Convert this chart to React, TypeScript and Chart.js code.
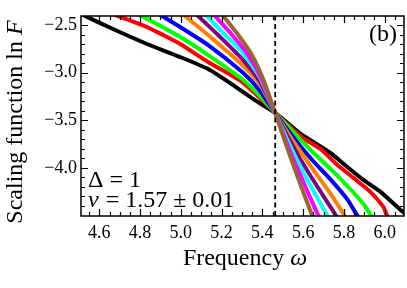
import React, { useEffect, useRef } from "react";
import { Chart, registerables } from "chart.js";

Chart.register(...registerables);

// Axis ranges and ticks
const xRange = [4.51, 6.095];
const yRange = [-4.505, -2.405];
const xTicks = [4.6, 4.8, 5.0, 5.2, 5.4, 5.6, 5.8, 6.0];
const xMinorTicks = [4.55, 4.65, 4.7, 4.75, 4.85, 4.9, 4.95, 5.05, 5.1, 5.15, 5.25, 5.3, 5.35, 5.45, 5.5, 5.55, 5.65, 5.7, 5.75, 5.85, 5.9, 5.95, 6.05];
const yTicks = [-4.0, -3.5, -3.0, -2.5];
const yMinorTicks = [-4.4, -4.3, -4.2, -4.1, -3.9, -3.8, -3.7, -3.6, -3.4, -3.3, -3.2, -3.1, -2.9, -2.8, -2.7, -2.6];

// Critical frequency (dashed line)
const criticalOmega = 5.463;

// Series: [omega, ln F]
const seriesBlack: [number, number][] = [[4.45, -2.33], [4.51, -2.385], [4.667, -2.542], [4.834, -2.699], [4.997, -2.836], [5.134, -2.962], [5.242, -3.11], [5.35, -3.27], [5.463, -3.423], [5.586, -3.64], [5.65, -3.728], [5.734, -3.843], [5.817, -3.99], [5.896, -4.126], [5.98, -4.252], [6.078, -4.441], [6.15, -4.56]];
const seriesRed: [number, number][] = [[4.6, -2.33], [4.692, -2.406], [4.834, -2.521], [4.913, -2.605], [4.997, -2.699], [5.134, -2.888], [5.301, -3.098], [5.38, -3.25], [5.463, -3.423], [5.601, -3.69], [5.685, -3.8], [5.768, -3.969], [5.847, -4.105], [5.93, -4.252], [5.994, -4.41], [6.013, -4.504], [6.05, -4.58]];
const seriesGreen: [number, number][] = [[4.74, -2.33], [4.81, -2.406], [4.864, -2.469], [4.997, -2.626], [5.134, -2.815], [5.301, -3.067], [5.39, -3.25], [5.463, -3.423], [5.586, -3.7], [5.65, -3.84], [5.734, -4.01], [5.817, -4.19], [5.896, -4.38], [5.935, -4.504], [5.97, -4.58]];
const seriesBlue: [number, number][] = [[4.85, -2.33], [4.908, -2.406], [4.997, -2.521], [5.134, -2.71], [5.301, -2.993], [5.38, -3.17], [5.463, -3.423], [5.571, -3.73], [5.65, -3.93], [5.734, -4.12], [5.817, -4.33], [5.867, -4.504], [5.9, -4.58]];
const seriesOrange: [number, number][] = [[4.98, -2.33], [5.021, -2.406], [5.134, -2.605], [5.301, -2.92], [5.39, -3.13], [5.463, -3.423], [5.571, -3.78], [5.65, -4.02], [5.734, -4.27], [5.805, -4.504], [5.83, -4.58]];
const seriesPurple: [number, number][] = [[5.05, -2.33], [5.085, -2.406], [5.183, -2.605], [5.301, -2.857], [5.39, -3.1], [5.463, -3.423], [5.571, -3.85], [5.65, -4.13], [5.734, -4.41], [5.762, -4.504], [5.785, -4.58]];
const seriesCyan: [number, number][] = [[5.095, -2.33], [5.129, -2.406], [5.218, -2.605], [5.301, -2.783], [5.39, -3.06], [5.463, -3.423], [5.571, -3.92], [5.65, -4.24], [5.72, -4.504], [5.74, -4.58]];
const seriesMagenta: [number, number][] = [[5.135, -2.33], [5.168, -2.406], [5.252, -2.605], [5.331, -2.815], [5.4, -3.08], [5.463, -3.423], [5.537, -3.83], [5.62, -4.24], [5.675, -4.504], [5.69, -4.58]];
const seriesBrown: [number, number][] = [[5.18, -2.33], [5.208, -2.406], [5.282, -2.605], [5.35, -2.82], [5.41, -3.1], [5.463, -3.423], [5.52, -3.78], [5.586, -4.17], [5.645, -4.504], [5.66, -4.58]];

const seriesList = [seriesBlack, seriesRed, seriesGreen, seriesBlue, seriesOrange, seriesPurple, seriesCyan, seriesMagenta, seriesBrown];
const seriesColors = ["#000000", "#ff0000", "#00ff00", "#0000ff", "#ff8000", "#800080", "#00ffff", "#ff00ff", "#996633"];

const SERIF = "'Liberation Serif', 'DejaVu Serif', serif";
Chart.defaults.font.family = SERIF;

const framePlugin = {
  id: "frameAndText",
  afterDraw(chart: any) {
    const ctx = chart.ctx as CanvasRenderingContext2D;
    const { left, right, top, bottom } = chart.chartArea;
    const xs = chart.scales.x;
    const ys = chart.scales.y;
    ctx.save();
    ctx.strokeStyle = "#000";
    ctx.lineWidth = 1.5;
    ctx.strokeRect(left, top, right - left, bottom - top);
    ctx.lineWidth = 1.2;
    const major = 7;
    const minor = 4;
    ctx.beginPath();
    const xt = (v: number, len: number) => {
      const px = Math.round(xs.getPixelForValue(v)) + 0.5;
      ctx.moveTo(px, bottom);
      ctx.lineTo(px, bottom - len);
      ctx.moveTo(px, top);
      ctx.lineTo(px, top + len);
    };
    const yt = (v: number, len: number) => {
      const py = Math.round(ys.getPixelForValue(v)) + 0.5;
      ctx.moveTo(left, py);
      ctx.lineTo(left + len, py);
      ctx.moveTo(right, py);
      ctx.lineTo(right - len, py);
    };
    xTicks.forEach((v) => xt(v, major));
    xMinorTicks.forEach((v) => xt(v, minor));
    yTicks.forEach((v) => yt(v, major));
    yMinorTicks.forEach((v) => yt(v, minor));
    ctx.stroke();

    ctx.fillStyle = "#000";
    ctx.textBaseline = "alphabetic";
    const upright = `24px ${SERIF}`;
    const italic = `italic 24px ${SERIF}`;
    // X title
    ctx.font = upright;
    const a = "Frequency ";
    const wa = ctx.measureText(a).width;
    ctx.font = italic;
    const wb = ctx.measureText("ω").width;
    const sx = 245 - (wa + wb) / 2;
    ctx.font = upright;
    ctx.textAlign = "left";
    ctx.fillText(a, sx, 265);
    ctx.font = italic;
    ctx.fillText("ω", sx + wa, 265);

    // Y title
    ctx.save();
    ctx.translate(22, 122);
    ctx.rotate(-Math.PI / 2);
    ctx.font = upright;
    const c = "Scaling function ln ";
    const wc = ctx.measureText(c).width;
    ctx.font = italic;
    const wd = ctx.measureText("F").width;
    const sy = -(wc + wd) / 2;
    ctx.font = upright;
    ctx.fillText(c, sy, 0);
    ctx.font = italic;
    ctx.fillText("F", sy + wc, 0);
    ctx.restore();

    // Panel label
    ctx.font = upright;
    ctx.textAlign = "right";
    ctx.fillText("(b)", 397, 41);

    // Annotations
    ctx.textAlign = "left";
    ctx.font = upright;
    ctx.fillText("Δ = 1", 88, 187);
    ctx.font = italic;
    ctx.fillText("ν", 88, 207);
    const wn = ctx.measureText("ν").width;
    ctx.font = upright;
    ctx.fillText(" = 1.57 ± 0.01", 88 + wn + 1, 207);
    ctx.restore();
  },
};

export default function App() {
  const ref = useRef<HTMLCanvasElement | null>(null);
  useEffect(() => {
    if (!ref.current) return;
    const datasets: any[] = seriesList.map((s, i) => ({
      data: s.map(([x, y]) => ({ x, y })),
      borderColor: seriesColors[i],
      backgroundColor: seriesColors[i],
      borderWidth: 4,
      pointRadius: 0,
      showLine: true,
      fill: false,
      tension: 0.2,
      clip: 0,
      order: seriesList.length - i,
    }));
    datasets.push({
      data: [
        { x: criticalOmega, y: yRange[0] },
        { x: criticalOmega, y: yRange[1] },
      ],
      borderColor: "#000",
      borderWidth: 1.8,
      borderDash: [5, 3.5],
      pointRadius: 0,
      showLine: true,
      fill: false,
      clip: 0,
      order: 0,
    });
    const tickFont = { family: SERIF, size: 18, style: "normal" as const, weight: "normal" as const };
    const chart = new Chart(ref.current, {
      type: "scatter",
      data: { datasets },
      options: {
        animation: false,
        responsive: false,
        devicePixelRatio: 1,
        layout: { padding: { top: 16, right: 3, left: 0, bottom: 0 } },
        plugins: { legend: { display: false }, tooltip: { enabled: false } },
        scales: {
          x: {
            type: "linear",
            min: xRange[0],
            max: xRange[1],
            grid: { display: false, drawTicks: false },
            border: { display: false },
            ticks: {
              color: "#000",
              font: tickFont,
              padding: 6,
              maxRotation: 0,
              callback: (v: any) => Number(v).toFixed(1),
            },
            afterBuildTicks: (s: any) => {
              s.ticks = xTicks.map((v) => ({ value: v }));
            },
            afterFit: (s: any) => {
              s.height = 72;
            },
          },
          y: {
            type: "linear",
            min: yRange[0],
            max: yRange[1],
            grid: { display: false, drawTicks: false },
            border: { display: false },
            ticks: {
              color: "#000",
              font: tickFont,
              padding: 4,
              callback: (v: any) => "\u2212" + Math.abs(Number(v)).toFixed(1),
            },
            afterBuildTicks: (s: any) => {
              s.ticks = yTicks.map((v) => ({ value: v }));
            },
            afterFit: (s: any) => {
              s.width = 81;
            },
          },
        },
      } as any,
      plugins: [framePlugin],
    });
    return () => chart.destroy();
  }, []);
  return (
    <div style={{ position: "absolute", left: 0, top: 0, width: 407, height: 288, background: "#fff" }}>
      <canvas ref={ref} width={407} height={288} />
    </div>
  );
}
